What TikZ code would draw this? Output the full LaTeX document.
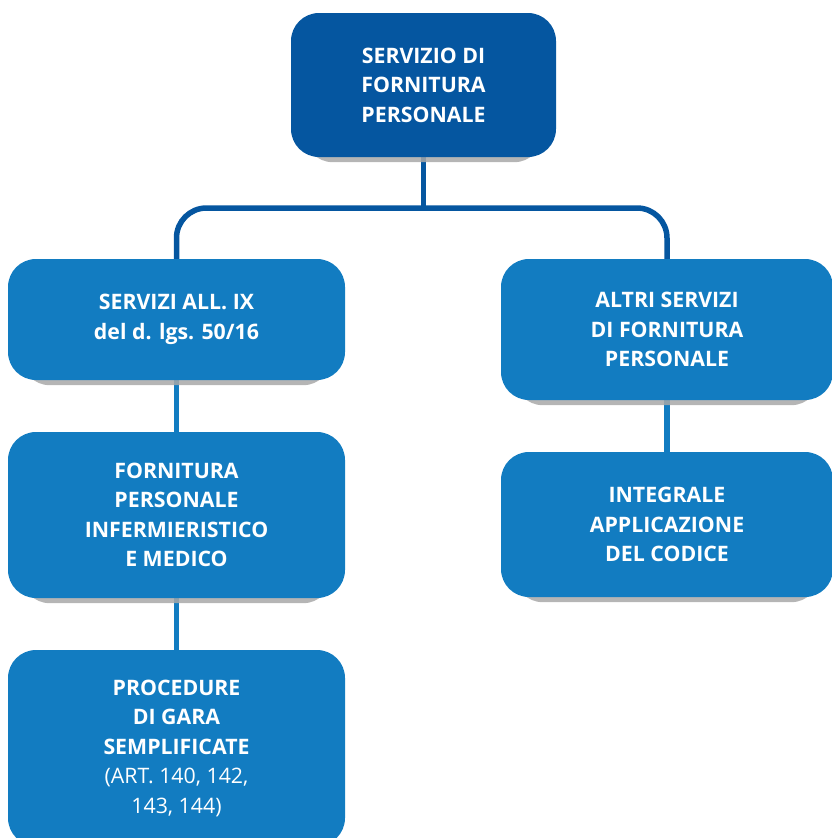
\documentclass[tikz,border=0pt]{standalone}
\usepackage{fontspec}
\setmainfont{Open Sans}
\usetikzlibrary{backgrounds}
\definecolor{darkblue}{HTML}{0556A0}
\definecolor{midblue}{HTML}{127CC1}
\definecolor{shadowgray}{HTML}{A8A8A8}
\tikzset{
  box/.style={draw=none, rounded corners=28pt, text=white, align=center,
    font=\fontsize{21.3}{29.5}\selectfont\bfseries, inner sep=0pt},
  topbox/.style={box, fill=darkblue},
  subbox/.style={box, fill=midblue},
  conn/.style={line width=5.5pt},
  boxshadow/.style={fill=shadowgray, rounded corners=28pt},
}
\begin{document}
\begin{tikzpicture}[x=1pt,y=-1pt]
\useasboundingbox (0,0) rectangle (832,838);
\clip (0,0) rectangle (832,838);
\node[topbox, minimum width=265pt, minimum height=144pt] (top) at (423.5,85) {SERVIZIO DI\\FORNITURA\\PERSONALE};
\node[subbox, minimum width=337pt, minimum height=121pt] (l1) at (176.5,319.5) {SERVIZI ALL. IX\\del d. lgs. 50/16};
\node[subbox, minimum width=332pt, minimum height=141pt] (r1) at (667,329.5) {ALTRI SERVIZI\\DI FORNITURA\\PERSONALE};
\node[subbox, minimum width=337pt, minimum height=166pt] (l2) at (176.5,515) {FORNITURA\\PERSONALE\\INFERMIERISTICO\\E MEDICO};
\node[subbox, minimum width=337pt, minimum height=196pt] (l3) at (176.5,748) {PROCEDURE\\DI GARA\\SEMPLIFICATE\\{\mdseries(ART. 140, 142,}\\{\mdseries 143, 144)}};
\node[subbox, minimum width=332pt, minimum height=145pt] (r2) at (667,524.5) {INTEGRALE\\APPLICAZIONE\\DEL CODICE};
\coordinate (bar) at (423.5,208);
\begin{scope}[on background layer]
  \draw[conn, draw=darkblue] (top.south) -- (bar);
  \draw[conn, draw=darkblue, rounded corners=30pt] (l1.north) -- (l1.north |- bar) -- (r1.north |- bar) -- (r1.north);
  \draw[conn, draw=midblue] (l1.south) -- (l2.north);
  \draw[conn, draw=midblue] (l2.south) -- (l3.north);
  \draw[conn, draw=midblue] (r1.south) -- (r2.north);
  \foreach \n in {top,l1,r1,l2,r2}{
    \fill[boxshadow, opacity=0.85] ([xshift=14pt,yshift=40pt]\n.south west) rectangle ([xshift=-14pt,yshift=-5pt]\n.south east);
  }
\end{scope}
\end{tikzpicture}
\end{document}
